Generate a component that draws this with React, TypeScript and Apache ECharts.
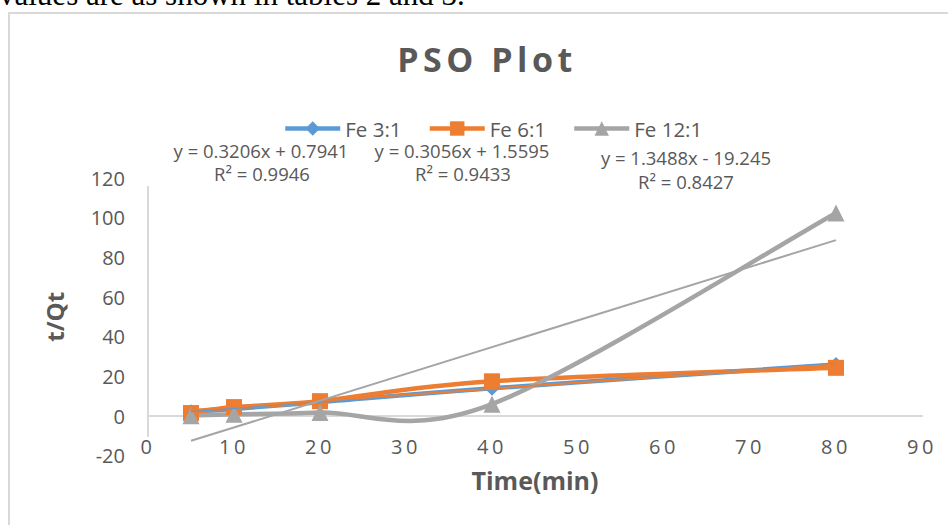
import React, { useEffect, useRef } from "react";
import * as echarts from "echarts";

// ---- data ----
const timeMin = [5, 10, 20, 40, 80];
const fe3 = [2.2, 3.6, 7.0, 14.0, 26.0];
const fe6 = [1.5, 4.5, 7.5, 17.5, 24.3];
const fe12 = [0.2, 0.9, 1.8, 6.0, 102.4];

const trendX = [5, 80];
const fe3Trend = [2.4, 26.4];
const fe6Trend = [3.1, 26.0];
const fe12Trend = [-12.5, 88.7];

const seriesNames = ["Fe 3:1", "Fe 6:1", "Fe 12:1"];
const equations = ["y = 0.3206x + 0.7941", "y = 0.3056x + 1.5595", "y = 1.3488x - 19.245"];
const rSquared = ["R² = 0.9946", "R² = 0.9433", "R² = 0.8427"];

const xMin = 0, xMax = 90, xStep = 10;
const yMin = -20, yMax = 120, yStep = 20;

const titleText = "PSO Plot";
const xName = "Time(min)";
const yName = "t/Qt";
const pageText = "values are as shown in tables 2 and 3.";

const BLUE = "#5b9bd5";
const ORANGE = "#ed7d31";
const GRAY = "#a5a5a5";
const TXT = "#595959";
const FONT = '"Open Sans", "Noto Sans", sans-serif';
const LINE_W = 4.5;

export default function App() {
  const ref = useRef<HTMLDivElement>(null);

  useEffect(() => {
    if (!ref.current) return;
    const chart = echarts.init(ref.current, undefined, { renderer: "svg" });
    const pts = (xs: number[], ys: number[]) => xs.map((x, i) => [x, ys[i]]);

    // Excel-like smoothed curve (Catmull-Rom style Bezier through the data points)
    const smoothCurve = (ys: number[], color: string) => ({
      type: "custom",
      coordinateSystem: "cartesian2d",
      data: pts(timeMin, ys),
      encode: { x: 0, y: 1 },
      z: 1,
      silent: true,
      renderItem: (params: any, api: any) => {
        const i = params.dataIndex;
        const n = timeMin.length;
        if (i >= n - 1) return null;
        const c = (j: number) => Math.max(0, Math.min(n - 1, j));
        const P = (j: number) => api.coord([timeMin[c(j)], ys[c(j)]]);
        const p0 = P(i - 1), p1 = P(i), p2 = P(i + 1), p3 = P(i + 2);
        return {
          type: "bezierCurve",
          shape: {
            x1: p1[0], y1: p1[1],
            x2: p2[0], y2: p2[1],
            cpx1: p1[0] + (p2[0] - p0[0]) / 6,
            cpy1: p1[1] + (p2[1] - p0[1]) / 6,
            cpx2: p2[0] - (p3[0] - p1[0]) / 6,
            cpy2: p2[1] - (p3[1] - p1[1]) / 6,
          },
          style: { stroke: color, lineWidth: LINE_W, fill: "none", lineCap: "round" },
          silent: true,
        };
      },
    });

    const markerSeries = (name: string, ys: number[], color: string, symbol: string, size: number, extra: any = {}) => ({
      name,
      type: "line",
      data: pts(timeMin, ys),
      symbol,
      symbolSize: size,
      lineStyle: { color, width: LINE_W, opacity: 0 },
      itemStyle: { color },
      z: 2,
      ...extra,
    });
    const trendSeries = (ys: number[], color: string) => ({
      type: "line",
      data: pts(trendX, ys),
      symbol: "none",
      showSymbol: false,
      lineStyle: { color, width: 2 },
      itemStyle: { color },
      z: 3,
      silent: true,
    });

    const eqFont = '18.5px "Open Sans", sans-serif';
    const eqText = (text: string, x: number, y: number) => ({
      type: "text",
      x,
      y,
      style: { text, font: eqFont, fill: TXT, textAlign: "center", textVerticalAlign: "middle" },
      silent: true,
    });

    chart.setOption({
      animation: false,
      textStyle: { fontFamily: FONT },
      grid: { left: 148, right: 26, top: 178, bottom: 69.3, containLabel: false, outerBoundsMode: "none" },
      legend: {
        data: seriesNames,
        left: 278,
        top: 113,
        itemWidth: 55,
        itemHeight: 18,
        itemGap: 26,
        lineStyle: { width: LINE_W, opacity: 1 },
        textStyle: { color: TXT, fontSize: 20.5, lineHeight: 16, fontFamily: FONT },
      },
      xAxis: {
        type: "value",
        min: xMin,
        max: xMax,
        interval: xStep,
        name: xName,
        nameLocation: "middle",
        nameGap: 12,
        nameTextStyle: { color: TXT, fontSize: 25, fontWeight: "bold", fontFamily: FONT },
        axisLine: { show: true, onZero: true, lineStyle: { color: "#d9d9d9", width: 2 } },
        axisTick: { show: false },
        splitLine: { show: false },
        axisLabel: { color: TXT, fontSize: 20, margin: -19, fontFamily: FONT },
      },
      yAxis: {
        type: "value",
        min: yMin,
        max: yMax,
        interval: yStep,
        name: yName,
        nameLocation: "middle",
        nameGap: 82,
        nameTextStyle: { color: TXT, fontSize: 24, fontWeight: "bold", fontFamily: FONT },
        axisLine: { show: false },
        axisTick: { show: false },
        splitLine: { show: false },
        axisLabel: { color: TXT, fontSize: 20, margin: 23, fontFamily: FONT },
      },
      graphic: [
        {
          type: "rect",
          z: -10,
          shape: { x: 9, y: 13, width: 1000, height: 600 },
          style: { fill: "#ffffff", stroke: "#d9d9d9", lineWidth: 2 },
          silent: true,
        },
        {
          type: "text",
          x: -1,
          y: -5.5,
          style: { text: pageText, font: '31px "Liberation Serif", "Times New Roman", serif', fill: "#000", textAlign: "left", textVerticalAlign: "middle" },
          silent: true,
        },
        {
          type: "text",
          x: 487,
          y: 59,
          style: { text: titleText, font: 'bold 34px "Open Sans", sans-serif', fill: TXT, textAlign: "center", textVerticalAlign: "middle" },
          silent: true,
        },
        eqText(equations[0], 261, 150),
        eqText(rSquared[0], 262, 173),
        eqText(equations[1], 462, 150),
        eqText(rSquared[1], 463, 173),
        eqText(equations[2], 686, 157),
        eqText(rSquared[2], 686, 181),
      ],
      series: [
        smoothCurve(fe3, BLUE),
        smoothCurve(fe6, ORANGE),
        smoothCurve(fe12, GRAY),
        markerSeries(seriesNames[0], fe3, BLUE, "diamond", 15, {
          markLine: {
            silent: true,
            symbol: ["none", "none"],
            label: { show: false },
            lineStyle: { color: "#d9d9d9", width: 2, type: "solid", opacity: 1 },
            data: [[{ coord: [xMin, 116] }, { coord: [xMin, -10.5] }]],
          },
        }),
        markerSeries(seriesNames[1], fe6, ORANGE, "rect", 16),
        markerSeries(seriesNames[2], fe12, GRAY, "triangle", 17),
        trendSeries(fe3Trend, BLUE),
        trendSeries(fe6Trend, ORANGE),
        trendSeries(fe12Trend, GRAY),
      ],
    });

    const applySpacing = () => {
      const svg = ref.current?.querySelector("svg");
      if (!svg) return;
      svg.querySelectorAll("text").forEach((t) => {
        const s = t.textContent || "";
        if (s === titleText) t.setAttribute("letter-spacing", "4.5");
        else if (/^\d+$/.test(s) && t.getAttribute("text-anchor") === "middle") t.setAttribute("letter-spacing", "3.5");
      });
    };
    applySpacing();
    chart.on("finished", applySpacing);

    return () => {
      chart.dispose();
    };
  }, []);

  return (
    <div
      ref={ref}
      style={{ position: "fixed", left: 0, top: 0, width: 948, height: 525, background: "#fff" }}
    />
  );
}
